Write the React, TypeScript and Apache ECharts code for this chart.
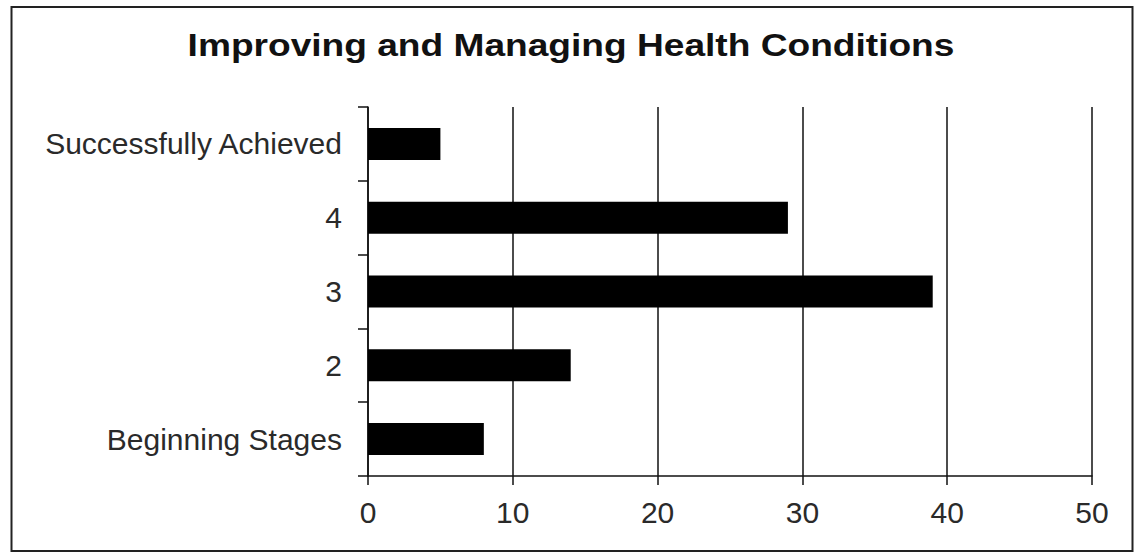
import React, { useEffect, useRef } from "react";
import * as echarts from "echarts";

const TITLE = "Improving and Managing Health Conditions";
const categories = ["Beginning Stages", "2", "3", "4", "Successfully Achieved"];
const values = [8, 14, 39, 29, 5];
const xMin = 0;
const xMax = 50;
const xInterval = 10;

export default function App() {
  const ref = useRef<HTMLDivElement>(null);
  useEffect(() => {
    if (!ref.current) return;
    const chart = echarts.init(ref.current, null, { renderer: "svg" });
    const font = "'Liberation Sans', Arial, sans-serif";
    chart.setOption({
      animation: false,
      backgroundColor: "#ffffff",
      graphic: [
        {
          type: "rect",
          shape: { x: 11.5, y: 7, width: 1121, height: 544 },
          style: { fill: "none", stroke: "#222", lineWidth: 2 },
          silent: true,
        },
        {
          type: "text",
          x: 571,
          y: 45,
          scaleX: 1.16,
          style: {
            text: TITLE,
            fontFamily: font,
            fontWeight: "bold",
            fontSize: 32,
            fill: "#111",
            align: "center",
            verticalAlign: "middle",
          },
        },
      ],
      grid: { left: 368, right: 47, top: 107, bottom: 80, containLabel: false },
      xAxis: {
        type: "value",
        min: xMin,
        max: xMax,
        interval: xInterval,
        axisLine: { show: true, lineStyle: { color: "#111", width: 1.5 } },
        axisTick: { show: true, length: 9, lineStyle: { color: "#111", width: 1.5 } },
        axisLabel: { color: "#2a2a2a", fontFamily: font, fontSize: 30, margin: 21 },
        splitLine: { show: true, lineStyle: { color: "#111", width: 1.5 } },
      },
      yAxis: {
        type: "category",
        data: categories,
        axisLine: { show: true, lineStyle: { color: "#111", width: 1.5 } },
        axisTick: { show: true, length: 10, alignWithLabel: false, lineStyle: { color: "#111", width: 1.5 } },
        axisLabel: { color: "#2a2a2a", fontFamily: font, fontSize: 30, margin: 26 },
        splitLine: { show: false },
      },
      series: [
        {
          type: "bar",
          data: values,
          barWidth: 32,
          itemStyle: { color: "#000" },
        },
      ],
    });
    return () => chart.dispose();
  }, []);
  return (
    <div
      ref={ref}
      style={{ position: "absolute", left: 0, top: 0, width: 1139, height: 556 }}
    />
  );
}
